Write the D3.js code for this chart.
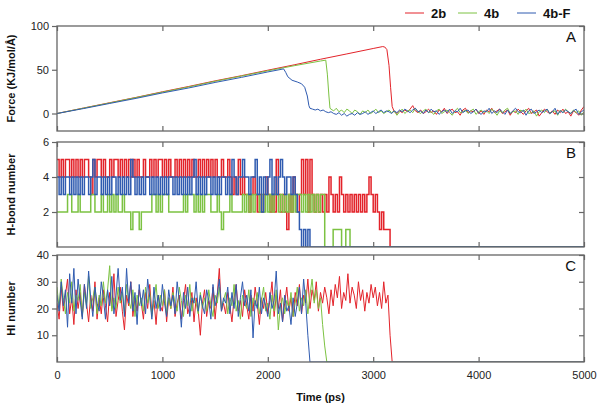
<!DOCTYPE html>
<html lang="en">
<head>
    <meta charset="UTF-8">
    <title>Pulling</title>
    <script src="https://cdn.jsdelivr.net/npm/d3@7/dist/d3.min.js"></script>
    <style>
        body { margin: 0; background: #fff; }
        text { font-family: "Liberation Sans", Arial, sans-serif; }
    </style>
</head>
<body>
<svg width="602" height="410" id="main"></svg>
<script>
    const seriesNames = ['2b', '4b', '4b-F'];
    const colors = ['#e3232a', '#7cc242', '#2f5bb0'];
    const xTicks = [0, 1000, 2000, 3000, 4000, 5000];

    // panel A: force, ramp points [t, value] then tail values every 25 ps
    const tailStep = 25;
    const force2bRamp = [[0, 0], [250, 6.2], [500, 12.3], [750, 18.4], [1000, 24.8], [1250, 30.9], [1500, 37.3], [1750, 43.2],
        [2000, 49.5], [2250, 55.6], [2500, 62], [2750, 68.1], [3000, 74.3], [3090, 76.5], [3110, 76], [3130, 73],
        [3150, 55], [3165, 30], [3180, 8]];
    const force2bTail = [2, 0, 3, 1, 4, 2, 5, 9, 3, 1,
        4, 0, 2, 5, 1, 3, -1, 4, 2, 6,
        0, 3, 5, 1, 2, -2, 4, 6, 1, 3,
        2, 5, 0, 3, -1, 4, 2, 6, 1, 3,
        5, 0, 2, 4, -2, 3, 1, 5, 2, -1,
        3, 6, 0, 2, 4, -3, 1, 5, 2, 0,
        3, -1, 4, 1, 5, 0, 2, -3, 3, 1,
        -2, 4, 8];
    const force4bRamp = [[0, 0], [250, 6.1], [500, 12.1], [750, 18.2], [1000, 24.4], [1250, 30.4], [1500, 36.8], [1750, 42.8],
        [2000, 48.8], [2250, 54.6], [2500, 60], [2550, 61], [2565, 45], [2580, 20], [2590, 6]];
    const force4bTail = [5, 3, 6, 2, 4, 1, 5, 3, 0, 4,
        2, -1, 3, 1, 4, 0, 2, 5, 1, 3,
        0, 2, 4, 1, 3, -2, 2, 5, 0, 3,
        4, 1, 6, 2, 0, 3, 5, 1, 2, -1,
        3, 5, 0, 2, 4, 1, -2, 3, 6, 1,
        2, 4, 0, 3, 5, -1, 2, 4, 1, 3,
        0, 5, 2, -2, 3, 1, 4, 6, 0, 2,
        3, -1, 4, 2, 5, 0, 1, 3, -3, 2,
        4, 1, 5, 0, 2, 3, -2, 4, 1, 5,
        2, 0, 4, 1, 3, -2, 2];
    const force4bFRamp = [[0, 0], [250, 5.6], [500, 11.5], [750, 17.3], [1000, 23.5], [1250, 29.2], [1500, 35.5], [1750, 41.3],
        [2000, 47.5], [2150, 51], [2170, 47], [2190, 42], [2230, 38], [2280, 36], [2320, 34], [2350, 30], [2375, 20], [2390, 9]];
    const force4bFTail = [6, 5, 4, 5, 3, 4, 2, 1, 2, 0,
        -1, 1, -2, 0, -3, -1, 0, -2, 1, -1,
        0, 2, -1, 1, 3, 0, 2, 4, 1, 3,
        2, 0, 3, 1, 4, 2, 5, 3, 1, 4,
        6, 2, 3, 0, 4, 1, 5, 2, 3, -1,
        2, 4, 1, 5, 0, 3, 2, 6, 1, 3,
        4, 0, 2, 5, 1, -1, 3, 2, 6, 0,
        3, 1, 5, 2, -1, 4, 0, 3, 6, 2,
        1, 4, -2, 3, 5, 0, 2, 4, 1, 3,
        5, 0, 2, 6, -1, 3, 1, 4, 2, 0,
        3, 5, -1, 2, 4];

    // panel B: H-bond number every 20 ps from t = 0
    const step = 20;
    const hbond2b = [5, 4, 5, 4, 5, 5, 4, 5, 4, 5,
        4, 5, 4, 5, 5, 4, 3, 5, 4, 5,
        5, 4, 5, 4, 4, 5, 4, 5, 5, 4,
        5, 4, 5, 4, 5, 4, 5, 4, 5, 4,
        4, 5, 4, 4, 5, 4, 5, 4, 5, 5,
        4, 5, 4, 5, 4, 4, 5, 4, 5, 4,
        5, 4, 5, 4, 5, 4, 4, 5, 4, 5,
        4, 5, 4, 5, 4, 5, 4, 4, 5, 4,
        4, 5, 4, 3, 4, 3, 5, 3, 4, 3,
        3, 2, 3, 4, 3, 2, 3, 2, 3, 4,
        3, 2, 3, 2, 5, 3, 2, 3, 2, 1,
        3, 2, 4, 3, 2, 3, 5, 3, 5, 2,
        5, 3, 2, 3, 2, 3, 2, 3, 2, 4,
        3, 2, 3, 2, 4, 3, 2, 3, 2, 3,
        2, 3, 2, 3, 2, 3, 2, 3, 4, 3,
        2, 3, 2, 1, 2, 1, 1, 1, 0];
    const hbond4b = [2, 2, 2, 2, 2, 3, 3, 2, 2, 2,
        3, 2, 2, 2, 2, 2, 3, 3, 2, 2,
        2, 3, 2, 2, 3, 2, 3, 2, 3, 2,
        2, 3, 2, 2, 2, 1, 2, 2, 2, 1,
        2, 2, 2, 2, 2, 3, 3, 2, 3, 2,
        3, 3, 3, 2, 2, 2, 2, 2, 2, 2,
        3, 2, 3, 3, 3, 2, 3, 2, 3, 2,
        3, 3, 3, 2, 2, 2, 3, 2, 1, 2,
        2, 2, 3, 2, 2, 2, 2, 2, 3, 2,
        3, 2, 3, 2, 3, 3, 2, 3, 2, 3,
        2, 3, 2, 3, 3, 2, 3, 2, 3, 2,
        3, 2, 3, 2, 3, 3, 2, 3, 2, 3,
        2, 3, 2, 3, 2, 3, 3, 0, 0, 0,
        0, 1, 1, 1, 1, 0, 0, 1, 1, 0,
        0];
    const hbond4bF = [4, 3, 4, 3, 4, 4, 3, 4, 3, 4,
        3, 4, 3, 4, 4, 3, 4, 5, 3, 4,
        4, 3, 4, 3, 4, 3, 4, 4, 3, 4,
        3, 4, 3, 4, 3, 5, 4, 3, 4, 3,
        4, 3, 4, 4, 3, 4, 3, 4, 3, 4,
        3, 4, 3, 4, 4, 3, 4, 3, 4, 3,
        4, 3, 4, 3, 4, 5, 3, 4, 3, 4,
        3, 4, 4, 3, 4, 3, 4, 3, 4, 4,
        3, 4, 3, 5, 4, 3, 4, 4, 5, 4,
        4, 3, 4, 4, 5, 3, 4, 2, 4, 3,
        4, 5, 3, 4, 3, 4, 5, 4, 3, 4,
        4, 3, 4, 3, 2, 1, 0, 1, 0, 1,
        0];

    // panel C: HI number every 20 ps from t = 0
    const hi2b = [22, 16, 28, 19, 25, 31, 18, 24, 14, 27,
        20, 26, 17, 29, 22, 15, 25, 19, 30, 16,
        24, 18, 27, 21, 15, 26, 20, 33, 17, 23,
        28, 19, 12, 25, 21, 30, 17, 24, 19, 27,
        22, 16, 26, 20, 29, 18, 23, 14, 25, 21,
        19, 27, 15, 24, 20, 28, 17, 22, 25, 16,
        23, 29, 18, 21, 26, 15, 24, 19, 10, 22,
        27, 17, 23, 20, 28, 16, 25, 35, 19, 22,
        18, 26, 21, 15, 24, 29, 19, 23, 17, 27,
        21, 16, 25, 19, 28, 22, 14, 24, 20, 26,
        18, 23, 30, 17, 25, 20, 27, 15, 22, 28,
        19, 24, 17, 26, 21, 29, 18, 25, 22, 31,
        20, 27, 23, 30, 19, 26, 22, 28, 24, 18,
        27, 21, 29, 24, 32, 20, 26, 23, 33, 22,
        28, 25, 20, 30, 23, 27, 19, 26, 22, 29,
        24, 28, 21, 26, 20, 30, 22, 25, 10, 0];
    const hi4b = [28, 20, 31, 24, 18, 26, 22, 30, 19, 25,
        23, 29, 17, 26, 21, 32, 20, 24, 28, 18,
        25, 21, 30, 22, 27, 36, 19, 24, 20, 28,
        22, 26, 18, 29, 23, 20, 27, 17, 25, 21,
        24, 19, 28, 22, 26, 17, 23, 29, 20, 25,
        21, 27, 18, 24, 20, 26, 22, 19, 28, 23,
        17, 25, 21, 29, 19, 24, 22, 18, 26, 20,
        24, 19, 27, 21, 17, 25, 22, 28, 20, 23,
        26, 18, 24, 21, 29, 19, 23, 16, 25, 22,
        20, 27, 17, 24, 21, 26, 18, 23, 28, 19,
        22, 16, 25, 19, 27, 12, 21, 24, 18, 23,
        20, 26, 17, 22, 28, 19, 24, 21, 27, 18,
        25, 31, 22, 27, 20, 24, 14, 6, 0];
    const hi4bF = [25, 19, 30, 21, 27, 13, 33, 22, 35, 18,
        31, 23, 16, 29, 20, 34, 24, 17, 28, 22,
        19, 30, 24, 16, 27, 21, 32, 18, 25, 35,
        23, 28, 17, 35, 22, 30, 19, 26, 14, 29,
        21, 27, 18, 31, 24, 16, 28, 20, 25, 19,
        29, 22, 17, 27, 21, 25, 18, 30, 23, 13,
        26, 20, 28, 17, 24, 22, 30, 19, 25, 21,
        18, 27, 23, 16, 29, 21, 25, 31, 19, 24,
        22, 28, 18, 26, 20, 29, 17, 24, 30, 21,
        25, 19, 27, 9, 23, 20, 28, 18, 24, 21,
        17, 26, 20, 23, 34, 18, 22, 15, 25, 19,
        21, 14, 24, 17, 22, 28, 18, 31, 22, 10,
        0];

    const svg = d3.select('#main');
    const left = 57, right = 584;
    const tMax = 5000;
    const xScale = d3.scaleLinear().domain([0, tMax]).range([left, right]);

    // build [t, v] point lists
    function rampTail(ramp, tail) {
        let start = ramp[ramp.length - 1][0];
        let pts = ramp.slice();
        let t0 = Math.ceil((start + 1) / tailStep) * tailStep;
        tail.forEach((v, i) => pts.push([t0 + i * tailStep, v]));
        return pts;
    }
    function sampled(values) {
        let pts = values.map((v, i) => [i * step, v]);
        pts.push([tMax, values[values.length - 1]]);
        return pts;
    }

    const panels = [
        {top: 26, bottom: 131, domain: [-20, 100], ticks: [0, 50, 100], title: 'Force (KJ/mol/\u00c5)', tag: 'A', curve: d3.curveLinear, width: 1,
            series: [rampTail(force2bRamp, force2bTail), rampTail(force4bRamp, force4bTail), rampTail(force4bFRamp, force4bFTail)]},
        {top: 142, bottom: 247, domain: [0, 6], ticks: [2, 4, 6], title: 'H-bond number', tag: 'B', curve: d3.curveStepAfter, width: 1.5,
            series: [sampled(hbond2b), sampled(hbond4b), sampled(hbond4bF)]},
        {top: 255, bottom: 362, domain: [0, 40], ticks: [10, 20, 30, 40], title: 'HI number', tag: 'C', curve: d3.curveLinear, width: 1,
            series: [sampled(hi2b), sampled(hi4b), sampled(hi4bF)]}
    ];

    const frameColor = '#666';
    const fmt = d3.format('d');

    panels.forEach((p, pi) => {
        let yScale = d3.scaleLinear().domain(p.domain).range([p.bottom, p.top]);
        let g = svg.append('g');

        g.append('defs').append('clipPath').attr('id', 'clip' + pi)
            .append('rect').attr('x', left).attr('y', p.top).attr('width', right - left).attr('height', p.bottom - p.top);

        let line = d3.line().x(d => xScale(d[0])).y(d => yScale(d[1])).curve(p.curve);
        let lines = g.append('g').attr('clip-path', `url(#clip${pi})`);
        p.series.forEach((pts, i) => {
            lines.append('path').attr('d', line(pts)).attr('fill', 'none')
                .attr('stroke', colors[i]).attr('stroke-width', p.width);
        });

        // frame
        g.append('rect').attr('x', left).attr('y', p.top).attr('width', right - left).attr('height', p.bottom - p.top)
            .attr('fill', 'none').attr('stroke', frameColor).attr('stroke-width', 1.3);

        let yAxis = d3.axisLeft(yScale).tickValues(p.ticks).tickSize(5).tickSizeOuter(0).tickFormat(fmt);
        g.append('g').attr('transform', `translate(${left}, 0)`).call(yAxis);
        let yAxisR = d3.axisRight(yScale).tickValues(p.ticks).tickSize(-5).tickSizeOuter(0).tickFormat('');
        g.append('g').attr('transform', `translate(${right}, 0)`).call(yAxisR);
        let xTop = d3.axisTop(xScale).tickValues(xTicks).tickSize(-5).tickSizeOuter(0).tickFormat('');
        g.append('g').attr('transform', `translate(0, ${p.top})`).call(xTop);
        let xBottom = d3.axisBottom(xScale).tickValues(xTicks).tickSize(-5).tickSizeOuter(0).tickFormat(pi < 2 ? '' : fmt);
        let xb = g.append('g').attr('transform', `translate(0, ${p.bottom})`).call(xBottom);
        xb.selectAll('.tick text').attr('dy', '1.2em').attr('y', 4);

        g.selectAll('.domain').remove();
        g.selectAll('.tick line').attr('stroke', frameColor).attr('stroke-width', 1.2);
        g.selectAll('.tick text').attr('font-size', 11).attr('fill', '#222')
            .attr('font-family', '"Liberation Sans", Arial, sans-serif');

        g.append('text').text(p.title)
            .attr('transform', `translate(15, ${(p.top + p.bottom) / 2}) rotate(-90)`)
            .attr('text-anchor', 'middle').attr('font-size', 11).attr('font-weight', 'bold').attr('fill', '#111');

        g.append('text').text(p.tag).attr('x', 576).attr('y', p.top + 16)
            .attr('text-anchor', 'end').attr('font-size', 15).attr('fill', '#111');
    });

    svg.append('text').text('Time (ps)').attr('x', (left + right) / 2).attr('y', 401)
        .attr('text-anchor', 'middle').attr('font-size', 11).attr('font-weight', 'bold').attr('fill', '#111');

    // legend
    const legendX = [405, 458, 517];
    seriesNames.forEach((name, i) => {
        let lg = svg.append('g').attr('transform', `translate(${legendX[i]}, 13)`);
        lg.append('line').attr('x1', 0).attr('x2', 19).attr('y1', 0).attr('y2', 0)
            .attr('stroke', colors[i]).attr('stroke-width', 1);
        lg.append('text').text(name).attr('x', 26).attr('y', 5)
            .attr('font-size', 13).attr('font-weight', 'bold').attr('fill', '#111');
    });
</script>
</body>
</html>
